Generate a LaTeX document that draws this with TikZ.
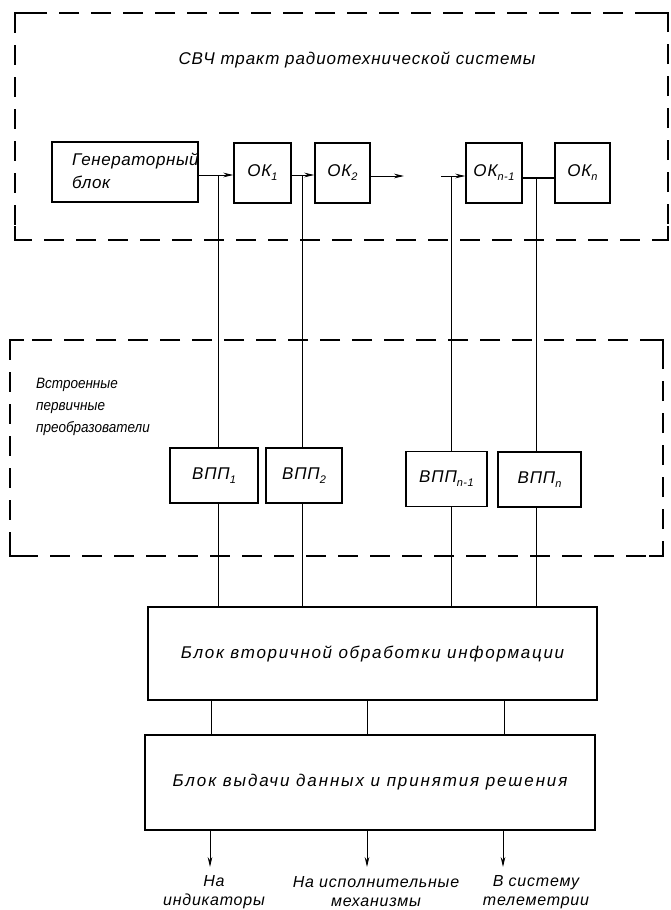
\documentclass[tikz,border=0pt]{standalone}
\usepackage{fontspec}
\newfontfamily\gost{Liberation Sans}
\newfontfamily\gostn[FakeStretch=0.9]{Liberation Sans}
\usetikzlibrary{arrows.meta}
\newcommand\lowidx[1]{\raisebox{-4pt}{\fontsize{11}{11}\selectfont #1}}
\newcommand\gsize[3]{\fontsize{#1}{#2}\selectfont\addfontfeatures{LetterSpace=#3}}
\begin{document}
\begin{tikzpicture}[x=1pt,y=-1pt,
  box/.style={draw, line width=1.4pt, inner sep=0pt},
  conn/.style={line width=0.9pt},
  arr/.style={line width=0.9pt, -{Stealth[length=10pt,width=4.6pt]}},
  region/.style={line width=1.1pt, dash pattern=on 20pt off 12pt},
  corner/.style={line width=1.1pt},
  ttl/.style={font=\gost\itshape\gsize{17}{20}{5.5}, inner sep=0pt},
  gentxt/.style={font=\gost\itshape\gsize{17}{23}{3.5}, align=left, inner sep=0pt},
  oklbl/.style={font=\gost\itshape\gsize{17}{19}{5}},
  sidetxt/.style={font=\gostn\itshape\gsize{15}{22}{0}, align=left, inner sep=0pt},
  bigtxt/.style={font=\gost\itshape\gsize{17}{20}{10}},
  bigtxtb/.style={font=\gost\itshape\gsize{17}{20}{11}},
  outlbl/.style={font=\gost\itshape\gsize{16}{19}{5}, align=center, inner sep=0pt},
]
\useasboundingbox[fill=white] (0,0) rectangle (671,910);

% top region
\draw[region] (15,13) rectangle (668,240);
\draw[corner] (15,27) -- (15,13) -- (29,13);
\draw[corner] (654,13) -- (668,13) -- (668,27);
\draw[corner] (15,226) -- (15,240) -- (29,240);
\draw[corner] (654,240) -- (668,240) -- (668,226);
\node[ttl] (title) at (357,60) {СВЧ тракт радиотехнической системы};

% middle region
\draw[region] (10,340) rectangle (663,556);
\draw[corner] (10,354) -- (10,340) -- (24,340);
\draw[corner] (649,340) -- (663,340) -- (663,354);
\draw[corner] (10,542) -- (10,556) -- (24,556);
\draw[corner] (649,556) -- (663,556) -- (663,542);
\node[sidetxt, anchor=west] (side) at (36,407) {Встроенные\\первичные\\преобразователи};

% top row
\node[box, minimum width=146pt, minimum height=60pt] (gen) at (125,172) {};
\node[gentxt, anchor=west] (gentext) at (72,171) {Генераторный\\блок};
\node[box, oklbl, minimum width=57pt, minimum height=60pt] (ok1) at (262.5,173) {ОК\lowidx{1}};
\node[box, oklbl, minimum width=55pt, minimum height=60pt] (ok2) at (342.5,173) {ОК\lowidx{2}};
\node[box, oklbl, minimum width=56pt, minimum height=60pt] (okm) at (494,173) {ОК\lowidx{n-1}};
\node[box, oklbl, minimum width=55pt, minimum height=60pt] (okn) at (582.5,173) {ОК\lowidx{n}};

\coordinate (j1) at (218,175);
\coordinate (j2) at (302,175);
\coordinate (j3) at (451,176);
\coordinate (j4) at (536,178);
\coordinate (a3end) at (404,176);
\coordinate (a4start) at (441,176);

\draw[arr] (gen.east |- j1) -- (ok1.west |- j1);
\draw[arr] (ok1.east |- j2) -- (ok2.west |- j2);
\draw[arr] (ok2.east |- a3end) -- (a3end);
\draw[arr] (a4start) -- (okm.west |- a4start);
\draw[line width=1.2pt] (okm.east |- j4) -- (okn.west |- j4);

% converters
\node[box, oklbl, minimum width=88pt, minimum height=55pt] (v1) at (214,475.5) {ВПП\lowidx{1}};
\node[box, oklbl, minimum width=76pt, minimum height=55pt] (v2) at (304,475.5) {ВПП\lowidx{2}};
\node[box, oklbl, minimum width=81pt, minimum height=55pt] (v3) at (446.5,479) {ВПП\lowidx{n-1}};
\node[box, oklbl, minimum width=83pt, minimum height=55pt] (v4) at (539.5,479.5) {ВПП\lowidx{n}};

% processing blocks
\node[box, bigtxt, minimum width=449pt, minimum height=93pt] (b1) at (372.5,653.5) {Блок вторичной обработки информации};
\node[box, bigtxtb, minimum width=450pt, minimum height=95pt] (b2) at (370,782.5) {Блок выдачи данных и принятия решения};

% verticals
\draw[conn] (j1) -- (j1 |- v1.north);
\draw[conn] (j2) -- (j2 |- v2.north);
\draw[conn] (j3) -- (j3 |- v3.north);
\draw[conn] (j4) -- (j4 |- v4.north);
\draw[conn] (j1 |- v1.south) -- (j1 |- b1.north);
\draw[conn] (j2 |- v2.south) -- (j2 |- b1.north);
\draw[conn] (j3 |- v3.south) -- (j3 |- b1.north);
\draw[conn] (j4 |- v4.south) -- (j4 |- b1.north);

\coordinate (k1) at (211,718);
\coordinate (k2) at (367,718);
\coordinate (k3) at (504,718);
\draw[conn] (k1 |- b1.south) -- (k1 |- b2.north);
\draw[conn] (k2 |- b1.south) -- (k2 |- b2.north);
\draw[conn] (k3 |- b1.south) -- (k3 |- b2.north);

\coordinate (o1) at (210,867);
\coordinate (o2) at (367,867);
\coordinate (o3) at (503,867);
\draw[arr] (o1 |- b2.south) -- (o1);
\draw[arr] (o2 |- b2.south) -- (o2);
\draw[arr] (o3 |- b2.south) -- (o3);

\node[outlbl] (t1) at (214,892) {На\\индикаторы};
\node[outlbl] (t2) at (376,892) {На исполнительные\\механизмы};
\node[outlbl] (t3) at (536,892) {В систему\\телеметрии};
\end{tikzpicture}
\end{document}
